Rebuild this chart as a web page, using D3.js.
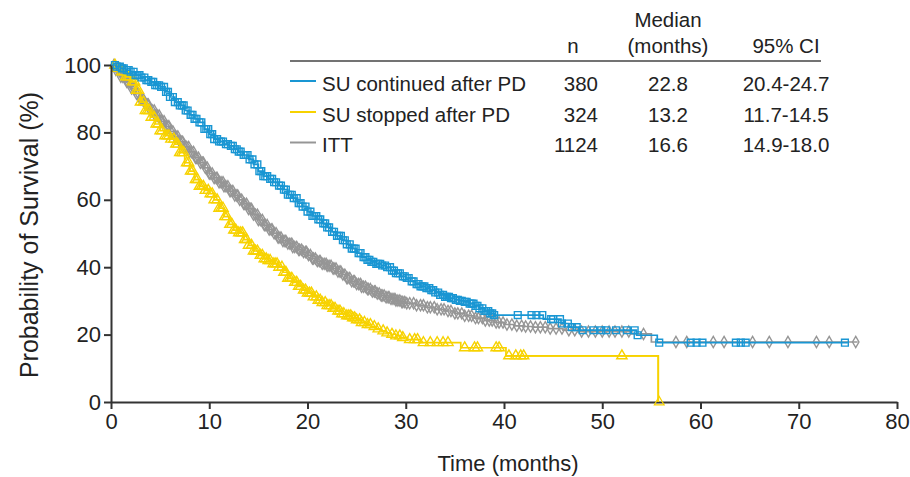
<!DOCTYPE html>
<html><head><meta charset="utf-8">
<script src="https://cdn.jsdelivr.net/npm/d3@7"></script>
<style>
html,body{margin:0;padding:0;background:#fff;}
svg text{font-family:"Liberation Sans",Arial,Helvetica,sans-serif;fill:#222;}
</style></head>
<body><svg id="chart" width="910" height="477"></svg>
<script>
// ---- Data ----
const xTicks = [0,10,20,30,40,50,60,70,80];
const yTicks = [0,20,40,60,80,100];

// Kaplan-Meier step vertices: [months, % surviving]
const blueSteps = [[0,100],[0.5,99.5],[1,99],[1.5,98.5],[2,98],[2.5,97],[3,96.3],[3.5,95.5],[4,95],[4.5,94],[5,93.5],[5.5,92],[6,90.5],[6.5,89],[7,88],[7.5,86.5],[8,85.2],[8.5,84],[9,83],[9.5,81],[10,79.5],[10.5,78],[11,77.3],[11.5,76.5],[12,76],[12.5,75],[13,74.3],[13.5,73.3],[14,72],[14.5,70.5],[15,68.5],[15.5,67],[16,66.2],[16.5,65.2],[17,64.2],[17.5,63],[18,61.5],[18.5,60.5],[19,59],[19.5,58],[20,56.5],[20.5,55.2],[21,54.2],[21.5,53],[22,51.8],[22.5,50.5],[23,49.3],[23.5,48],[24,46.8],[24.5,45.5],[25,44.2],[25.5,43],[26,42.2],[26.5,41.6],[27,41],[27.5,40.5],[28,40],[28.5,39],[29,38.2],[29.5,37.3],[30,36.8],[30.5,35.8],[31,35],[31.5,34.3],[32,33.8],[32.5,33.2],[33,32.5],[33.5,31.8],[34,31.2],[34.5,30.8],[35,30.3],[35.5,30],[36,29.7],[36.5,29.2],[37,28.5],[37.5,27.8],[38,27],[38.5,26.3],[39,25.8],[44,24.6],[45.8,23.3],[46.6,22.2],[47.6,21.3],[53.5,19.8],[55.6,17.6],[75,17.6]];
const yellowSteps = [[0,100],[0.5,99],[1,98],[1.5,96.5],[2,95],[2.5,92.5],[3,89],[3.5,86.5],[4,84.5],[4.5,82.5],[5,80.5],[5.5,79],[6,78],[6.5,76.5],[7,74],[7.5,71],[8,68.5],[8.5,66],[9,64],[9.5,62.8],[10,61.8],[10.5,60],[11,57.5],[11.5,55],[12,52.7],[12.5,51],[13,50.2],[13.5,48.2],[14,46.5],[14.5,44.8],[15,43.5],[15.5,42.5],[16,42],[16.5,41],[17,40],[17.5,38.5],[18,36.7],[18.5,35.5],[19,34.3],[19.5,33.2],[20,32.3],[20.5,31.2],[21,30.2],[21.5,29.5],[22,28.6],[22.5,27.8],[23,27],[23.5,26.2],[24,25.6],[24.5,25],[25,24.4],[25.5,23.6],[26,23],[26.5,22.4],[27,21.7],[27.5,21.1],[28,20.5],[28.5,20.1],[29,19.6],[29.5,19.1],[30.2,18.5],[31.5,17.6],[35.6,16.1],[40.2,13.7],[55.7,0]];
const graySteps = [[0,100],[0.5,98.5],[1,96.5],[1.5,95],[2,93],[2.5,91.5],[3,89.8],[3.5,88.3],[4,86.5],[4.5,85],[5,83.3],[5.5,81.8],[6,80.3],[6.5,78.8],[7,77.2],[7.5,75.7],[8,74.2],[8.5,72.5],[9,71],[9.5,69.5],[10,67.8],[10.5,66.5],[11,65.2],[11.5,64],[12,62.6],[12.5,61.3],[13,60],[13.5,58.8],[14,57.3],[14.5,55.6],[15,54],[15.5,52.5],[16,51.2],[16.5,50.1],[17,48.8],[17.5,47.8],[18,47],[18.5,46],[19,45.2],[19.5,44.5],[20,43.6],[20.5,42.6],[21,41.8],[21.5,41],[22,40.4],[22.5,39.6],[23,38.7],[23.5,37.8],[24,36.8],[24.5,35.8],[25,35],[25.5,34.2],[26,33.5],[26.5,32.8],[27,32.2],[27.5,31.6],[28,31.1],[28.5,30.6],[29,30.1],[29.5,29.7],[30,29.3],[31,28.7],[32,28.1],[33,27.5],[34,27],[35,26.3],[36,25.6],[37,24.9],[38,24.2],[39,23.6],[40,23],[41,22.6],[42,22.4],[43,22.2],[44.5,21.8],[46,21.3],[47.5,20.9],[53,20.2],[55,17.8],[76,17.8]];

// Censoring times (months)
const blueCensor = [0.4,0.6,0.9,1.1,1.3,1.6,1.8,2.0,2.3,2.5,2.7,2.9,3.1,3.4,3.6,3.8,4.1,4.3,4.5,4.7,4.9,5.1,5.4,5.6,5.8,6.0,6.3,6.5,6.8,7.0,7.2,7.4,7.6,7.8,8.1,8.3,8.5,8.7,9.0,9.2,9.5,9.7,9.9,10.1,10.3,10.5,10.8,11.0,11.2,11.4,11.7,11.9,12.2,12.4,12.6,12.8,13.0,13.2,13.5,13.7,13.9,14.1,14.4,14.6,14.9,15.1,15.3,15.5,15.7,15.9,16.2,16.4,16.6,16.8,17.1,17.3,17.6,17.8,18.0,18.2,18.4,18.6,18.9,19.1,19.3,19.5,19.8,20.0,20.3,20.5,20.7,20.9,21.1,21.3,21.6,21.8,22.0,22.2,22.5,22.7,23.0,23.2,23.4,23.6,23.8,24.0,24.3,24.5,24.7,24.9,25.2,25.4,25.7,25.9,26.1,26.3,26.5,26.7,27.0,27.2,27.4,27.6,27.9,28.1,28.4,28.6,28.8,29.0,29.2,29.4,29.7,29.9,30.1,30.3,30.6,30.8,31.1,31.3,31.5,31.7,31.9,32.1,32.4,32.6,32.8,33.0,33.3,33.5,33.8,34.0,34.2,34.4,34.6,34.8,35.1,35.3,35.5,35.7,36.0,36.2,36.5,36.7,36.9,37.1,37.3,37.5,37.8,38.0,38.2,38.4,38.6,38.8,39.0,41.4,42.8,43.3,43.9,44.8,45.0,45.7,45.9,46.5,46.9,47.4,48.0,49.1,49.9,50.4,51.4,52.5,53.3,53.6,55.8,59.0,59.6,60.2,63.6,64.1,64.6,74.7];
const yellowCensor = [0.4,0.6,0.8,1.1,1.3,1.5,1.7,1.9,2.2,2.4,2.6,2.8,3.0,3.3,3.5,3.7,3.9,4.1,4.4,4.6,4.8,5.0,5.2,5.5,5.7,5.9,6.1,6.4,6.6,6.8,7.0,7.2,7.4,7.7,7.9,8.1,8.3,8.6,8.8,9.0,9.2,9.4,9.6,9.9,10.1,10.3,10.5,10.8,11.0,11.2,11.4,11.6,11.8,12.1,12.3,12.5,12.7,13.0,13.2,13.4,13.6,13.8,14.0,14.3,14.5,14.7,14.9,15.2,15.4,15.6,15.8,16.0,16.2,16.5,16.7,16.9,17.1,17.4,17.6,17.8,18.0,18.2,18.4,18.7,18.9,19.1,19.3,19.6,19.8,20.0,20.2,20.4,20.6,20.9,21.1,21.3,21.5,21.8,22.0,22.2,22.4,22.6,22.8,23.1,23.3,23.5,23.7,24.0,24.2,24.4,24.6,24.8,25.0,25.3,25.5,25.8,26.1,26.4,26.8,27.2,27.7,28.1,28.6,29.0,29.4,29.7,30.4,30.9,31.2,31.8,32.5,33.2,33.8,34.3,36.0,37.0,37.3,39.2,39.5,40.5,41.2,41.7,42.0,52.0];
const grayCensor = [0.3,0.5,0.7,0.9,1.0,1.2,1.4,1.6,1.7,1.9,2.1,2.3,2.4,2.6,2.8,3.0,3.1,3.3,3.5,3.7,3.8,4.0,4.2,4.4,4.5,4.7,4.9,5.1,5.2,5.4,5.6,5.8,5.9,6.1,6.3,6.5,6.6,6.8,7.0,7.2,7.3,7.5,7.7,7.9,8.0,8.2,8.4,8.6,8.7,8.9,9.1,9.3,9.4,9.6,9.8,10.0,10.1,10.3,10.5,10.7,10.8,11.0,11.2,11.4,11.5,11.7,11.9,12.1,12.2,12.4,12.6,12.8,12.9,13.1,13.3,13.5,13.6,13.8,14.0,14.2,14.3,14.5,14.7,14.9,15.0,15.2,15.4,15.6,15.7,15.9,16.1,16.3,16.4,16.6,16.8,17.0,17.1,17.3,17.5,17.7,17.8,18.0,18.2,18.4,18.5,18.7,18.9,19.1,19.2,19.4,19.6,19.8,19.9,20.1,20.3,20.5,20.6,20.8,21.0,21.2,21.3,21.5,21.7,21.9,22.0,22.2,22.4,22.6,22.7,22.9,23.1,23.3,23.4,23.6,23.8,24.0,24.1,24.3,24.5,24.7,24.8,25.0,25.2,25.4,25.5,25.7,25.9,26.1,26.2,26.4,26.6,26.8,26.9,27.1,27.3,27.5,27.6,27.8,28.0,28.2,28.3,28.5,28.7,28.9,29.0,29.2,29.4,29.6,29.7,29.9,30.1,30.4,30.8,31.1,31.5,31.8,32.2,32.5,32.9,33.2,33.6,33.9,34.3,34.6,35.0,35.3,35.7,36.0,36.4,36.7,37.1,37.4,37.8,38.1,38.5,38.8,39.2,39.5,39.9,40.3,40.8,41.3,41.8,42.2,42.7,43.2,43.7,44.2,44.7,45.3,45.9,46.6,47.2,47.9,48.6,49.3,50.0,50.7,51.3,52.0,52.7,54.2,57.5,58.6,61.3,62.4,65.3,67.0,68.9,71.8,73.1,75.8];
// last yellow censor sits on the drop to zero
const yellowFinalCensor = [55.8];

const legendNames = ["SU continued after PD","SU stopped after PD","ITT"];
const legendN = ["380","324","1124"];
const legendMedian = ["22.8","13.2","16.6"];
const legendCI = ["20.4-24.7","11.7-14.5","14.9-18.0"];

// ---- Drawing ----
const colors = {blue:"#1996d3", yellow:"#f7d200", gray:"#969696"};
const svg = d3.select("#chart");
const x = d3.scaleLinear().domain([0,80]).range([111,897]);
const y = d3.scaleLinear().domain([0,100]).range([402,65]);
const axisColor = "#333";

function stepVal(steps,t){
  let v = steps[0][1];
  for(const s of steps){ if(s[0] <= t) v = s[1]; else break; }
  return v;
}
const line = d3.line().x(d=>x(d[0])).y(d=>y(d[1])).curve(d3.curveStepAfter);

function drawSeries(steps,censor,color,shape,size){
  const g = svg.append("g");
  g.append("path").datum(steps).attr("d",line).attr("fill","none")
    .attr("stroke",color).attr("stroke-width",1.7);
  const sym = d3.symbol().type(shape).size(size);
  g.selectAll("path.m").data(censor).enter().append("path").attr("class","m")
    .attr("d", sym())
    .attr("transform",t=>`translate(${x(t)},${y(stepVal(steps,t))})`)
    .attr("fill","none").attr("stroke",color).attr("stroke-width",1.4);
  return g;
}
drawSeries(graySteps,grayCensor,colors.gray,d3.symbolDiamond,36);
drawSeries(yellowSteps,yellowCensor,colors.yellow,d3.symbolTriangle,46);
drawSeries(blueSteps,blueCensor,colors.blue,d3.symbolSquare,46);

// Axes (drawn on top of curves)
const gx = svg.append("g").attr("transform","translate(0,402)")
  .call(d3.axisBottom(x).tickValues(xTicks).tickSize(7).tickPadding(4).tickSizeOuter(0));
const gy = svg.append("g").attr("transform","translate(111,0)")
  .call(d3.axisLeft(y).tickValues(yTicks).tickSize(7).tickPadding(3).tickSizeOuter(0));
[gx,gy].forEach(g=>{
  g.select(".domain").attr("stroke",axisColor).attr("stroke-width",2);
  g.selectAll(".tick line").attr("stroke",axisColor).attr("stroke-width",2);
  g.selectAll(".tick text").attr("font-size",22).attr("fill","#222")
   .attr("font-family","'Liberation Sans',Arial,sans-serif");
});
// yellow drop and its last censor mark, kept above the x axis
svg.append("path").datum(yellowSteps.slice(-2)).attr("d",line).attr("fill","none")
  .attr("stroke",colors.yellow).attr("stroke-width",1.7);
svg.selectAll("path.yf").data(yellowFinalCensor).enter().append("path").attr("class","yf")
  .attr("d",d3.symbol().type(d3.symbolTriangle).size(40)())
  .attr("transform",t=>`translate(${x(t)},${y(stepVal(yellowSteps,t))})`).attr("fill","none")
  .attr("stroke",colors.yellow).attr("stroke-width",1.3);

svg.append("text").attr("x",508).attr("y",471).attr("text-anchor","middle")
  .attr("font-size",22).text("Time (months)");
svg.append("text").attr("transform","translate(38,235) rotate(-90)")
  .attr("text-anchor","middle").attr("font-size",25).text("Probability of Survival (%)");

// Legend table
const fs = 20.5;
const lg = svg.append("g");
lg.append("text").attr("x",668).attr("y",27).attr("text-anchor","middle").attr("font-size",fs).text("Median");
lg.append("text").attr("x",668).attr("y",53).attr("text-anchor","middle").attr("font-size",fs).text("(months)");
lg.append("text").attr("x",573).attr("y",53).attr("text-anchor","middle").attr("font-size",fs).text("n");
lg.append("text").attr("x",786).attr("y",53).attr("text-anchor","middle").attr("font-size",fs).text("95% CI");
lg.append("line").attr("x1",290).attr("x2",821).attr("y1",61).attr("y2",61).attr("stroke","#444").attr("stroke-width",1.5);
const rowY = [90.5,121.5,152];
const swatch = [colors.blue,colors.yellow,colors.gray];
legendNames.forEach((nm,i)=>{
  lg.append("line").attr("x1",290).attr("x2",316).attr("y1",rowY[i]-9.5).attr("y2",rowY[i]-9.5)
    .attr("stroke",swatch[i]).attr("stroke-width",2);
  lg.append("text").attr("x",322).attr("y",rowY[i]).attr("font-size",fs).text(nm);
  lg.append("text").attr("x",598).attr("y",rowY[i]).attr("text-anchor","end").attr("font-size",fs).text(legendN[i]);
  lg.append("text").attr("x",668).attr("y",rowY[i]).attr("text-anchor","middle").attr("font-size",fs).text(legendMedian[i]);
  lg.append("text").attr("x",786).attr("y",rowY[i]).attr("text-anchor","middle").attr("font-size",fs).text(legendCI[i]);
});
</script></body></html>
